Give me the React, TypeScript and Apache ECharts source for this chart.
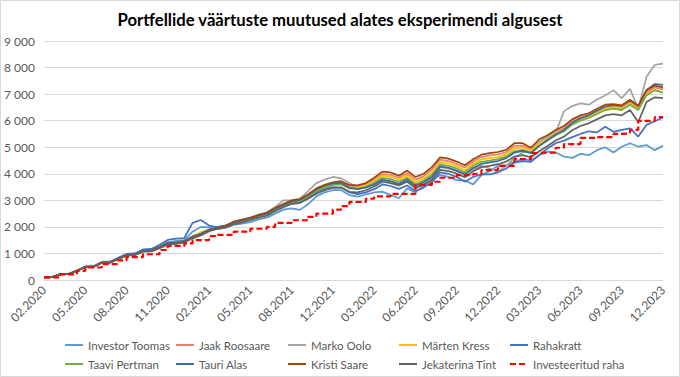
import React, { useEffect, useRef } from "react";
import * as echarts from "echarts";

const tickLabels = [
  "02.2020", "05.2020", "08.2020", "11.2020", "02.2021", "05.2021", "08.2021", "12.2021",
  "03.2022", "06.2022", "09.2022", "12.2022", "03.2023", "06.2023", "09.2023", "12.2023",
];

const investorToomas = [100,110,220,230,355,500,510,665,680,830,960,980,1120,1130,1260,1420,1470,1500,1820,2000,1980,1920,1960,2080,2120,2180,2280,2350,2500,2650,2700,2640,2850,3150,3300,3380,3380,3200,3140,3220,3300,3330,3200,3080,3450,3300,3550,3760,3950,3880,3760,3750,3600,3950,4100,4300,4330,4450,4550,4500,4700,4830,4800,4650,4600,4750,4700,4890,5000,4800,5020,5150,5020,5080,4890,5050];
const jaakRoosaare = [100,110,220,225,350,490,500,650,660,800,930,950,1090,1100,1220,1360,1390,1440,1610,1720,1870,1960,2030,2180,2250,2330,2430,2510,2690,2840,2970,3020,3200,3410,3540,3640,3680,3530,3500,3600,3780,3990,3960,3850,4020,3780,3910,4150,4530,4480,4370,4230,4460,4630,4690,4730,4810,5050,5060,4900,5210,5380,5580,5720,5970,6120,6210,6370,6520,6550,6500,6700,6470,7060,7250,7180];
const markoOolo = [100,105,215,220,345,490,500,650,660,800,930,950,1090,1100,1220,1360,1390,1430,1600,1720,1880,1950,2020,2160,2250,2330,2450,2540,2750,3000,3000,3060,3350,3650,3780,3880,3830,3650,3500,3520,3600,3750,3700,3600,3760,3560,3700,3880,4250,4200,4100,3980,4180,4300,4200,4080,4300,4600,4800,4850,5200,5400,5550,6350,6550,6650,6600,6800,6950,7150,6850,7200,6450,7650,8100,8150];
const martenKress = [100,110,215,220,345,485,495,645,655,795,925,945,1085,1095,1225,1370,1395,1460,1650,1800,1900,1970,2030,2170,2240,2330,2430,2510,2680,2830,2980,3030,3200,3400,3530,3630,3650,3500,3470,3560,3720,3930,3880,3780,3940,3680,3830,4040,4430,4390,4280,4130,4380,4540,4590,4630,4730,4950,4990,4870,5130,5320,5520,5660,5910,6060,6160,6310,6460,6500,6450,6650,6440,7000,7150,7080];
const rahakratt = [100,115,225,235,360,510,520,680,690,840,980,1000,1150,1170,1330,1510,1560,1580,2150,2260,2050,1990,2060,2180,2240,2330,2420,2480,2640,2780,2900,2940,3100,3300,3420,3500,3480,3300,3230,3300,3420,3600,3540,3430,3560,3350,3480,3680,4050,4000,3880,3700,3880,3980,3980,4050,4200,4420,4480,4450,4700,4950,5150,5250,5380,5500,5600,5560,5770,5580,5650,5710,5400,5840,5980,6120];
const taaviPertman = [100,110,220,225,350,490,500,650,660,800,930,950,1090,1100,1230,1380,1400,1450,1620,1720,1880,1960,2020,2150,2220,2300,2400,2480,2650,2800,2930,2980,3150,3350,3480,3580,3600,3450,3420,3500,3650,3850,3800,3700,3850,3600,3750,3950,4350,4300,4200,4050,4300,4450,4500,4550,4650,4850,4900,4800,5050,5250,5450,5600,5850,6000,6100,6250,6400,6450,6400,6600,6400,6950,7150,7050];
const tauriAlas = [100,110,220,225,350,495,505,655,665,810,945,965,1110,1120,1250,1400,1420,1470,1640,1740,1900,1980,2040,2170,2240,2320,2420,2500,2680,2830,2960,3020,3200,3420,3550,3640,3650,3480,3430,3480,3600,3780,3720,3620,3780,3530,3680,3880,4280,4220,4120,3970,4220,4370,4430,4480,4590,4800,4860,4780,5050,5270,5480,5650,5920,6090,6200,6370,6530,6590,6560,6780,6560,7150,7380,7350];
const kristiSaare = [100,110,220,225,350,490,500,650,660,800,930,950,1080,1090,1210,1350,1380,1430,1600,1700,1860,1950,2030,2200,2270,2350,2450,2540,2710,2860,3000,3050,3220,3450,3580,3680,3720,3580,3560,3650,3850,4080,4050,3930,4120,3880,4000,4250,4620,4570,4460,4320,4550,4720,4780,4820,4900,5150,5150,4980,5300,5450,5650,5800,6050,6200,6280,6450,6600,6620,6580,6780,6550,7150,7320,7250];
const jekaterinaTint = [100,110,220,225,350,485,495,640,650,790,915,935,1070,1080,1200,1340,1360,1410,1570,1680,1840,1920,1980,2100,2170,2250,2350,2420,2590,2740,2860,2900,3060,3250,3380,3470,3480,3320,3300,3380,3520,3700,3650,3560,3700,3460,3600,3780,4150,4100,4010,3870,4100,4250,4300,4360,4460,4650,4700,4620,4850,5050,5250,5400,5640,5800,5900,6050,6200,6250,6200,6400,5950,6700,6880,6850];
const investeeritudRaha = [100,100,210,210,340,470,470,600,600,740,860,860,970,970,1130,1280,1280,1380,1500,1500,1650,1700,1700,1820,1820,1930,1930,2000,2150,2150,2250,2250,2380,2500,2500,2650,2780,2940,2940,3060,3150,3150,3240,3240,3240,3580,3580,3700,3850,3850,3950,3950,4000,4140,4140,4300,4300,4550,4550,4780,4800,4800,4980,5120,5120,5350,5350,5380,5380,5500,5520,5650,5990,5990,6130,6150];

const seriesNames = [
  "Investor Toomas", "Jaak Roosaare", "Marko Oolo", "Märten Kress", "Rahakratt",
  "Taavi Pertman", "Tauri Alas", "Kristi Saare", "Jekaterina Tint", "Investeeritud raha",
];
const seriesValues = [
  investorToomas, jaakRoosaare, markoOolo, martenKress, rahakratt,
  taaviPertman, tauriAlas, kristiSaare, jekaterinaTint, investeeritudRaha,
];
const seriesColors = [
  "#5B9BD5", "#F0806A", "#A5A5A5", "#FFC000", "#4472C4",
  "#70AD47", "#3E6A9E", "#9E480E", "#636363", "#FF0000",
];

const legendColumns = [
  ["Investor Toomas", "Taavi Pertman"],
  ["Jaak Roosaare", "Tauri Alas"],
  ["Marko Oolo", "Kristi Saare"],
  ["Märten Kress", "Jekaterina Tint"],
  ["Rahakratt", "Investeeritud raha"],
];
const legendLefts = [64, 175, 287, 398, 509];

const categories: string[] = [];
tickLabels.forEach((t, k) => {
  categories.push(t);
  if (k < tickLabels.length - 1) {
    for (let j = 1; j < 5; j++) categories.push(`${t}/${j}`);
  }
});

const FONT = "Lato";

function fmt(v: number) {
  if (v === 0) return "0";
  const th = Math.floor(v / 1000);
  const rest = v % 1000;
  return `${th} ${String(rest).padStart(3, "0")}`;
}

export default function App() {
  const ref = useRef<HTMLDivElement>(null);
  useEffect(() => {
    if (!ref.current) return;
    const chart = echarts.init(ref.current, null, { renderer: "svg" });
    const series = seriesNames.map((name, idx) => {
      const isRed = idx === 9;
      return {
        name,
        type: "line",
        data: seriesValues[idx],
        symbol: "none",
        showSymbol: false,
        step: isRed ? "end" : undefined,
        color: seriesColors[idx],
        lineStyle: {
          color: seriesColors[idx],
          width: isRed ? 2.2 : 1.75,
          type: isRed ? [6, 3] : "solid",
        },
        z: 2 + idx,
      };
    });
    chart.setOption({
      animation: false,
      backgroundColor: "#ffffff",
      textStyle: { fontFamily: FONT },
      title: {
        text: "Portfellide väärtuste muutused alates eksperimendi algusest",
        left: "center",
        top: 6,
        textStyle: { fontFamily: FONT, fontSize: 16.7, fontWeight: "bold", color: "#000000" },
      },
      legend: legendColumns.map((col, c) => ({
        data: col,
        orient: "vertical",
        left: legendLefts[c],
        top: 339,
        padding: 0,
        itemWidth: 18,
        itemHeight: 8,
        itemGap: 7,
        itemStyle: { opacity: 0 },
        textStyle: { fontFamily: FONT, fontSize: 11.5, color: "#595959" },
        selectedMode: false,
      })),
      grid: { left: 44, right: 17, top: 41, bottom: 97, containLabel: false },
      xAxis: {
        type: "category",
        data: categories,
        boundaryGap: false,
        axisLine: { show: true, lineStyle: { color: "#d9d9d9", width: 1 } },
        axisTick: { show: false },
        axisLabel: {
          interval: 4,
          rotate: 45,
          margin: 8,
          color: "#595959",
          fontFamily: FONT,
          fontSize: 12,
        },
        splitLine: { show: false },
      },
      yAxis: {
        type: "value",
        min: 0,
        max: 9000,
        interval: 1000,
        axisLine: { show: false },
        axisTick: { show: false },
        axisLabel: {
          formatter: (v: number) => fmt(v),
          color: "#595959",
          fontFamily: FONT,
          fontSize: 12,
          margin: 9,
        },
        splitLine: { lineStyle: { color: "#d9d9d9", width: 1 } },
      },
      graphic: [
        {
          type: "rect",
          shape: { x: 0.5, y: 0.5, width: 679, height: 376 },
          style: { fill: "none", stroke: "#d9d9d9", lineWidth: 1 },
          silent: true,
          z: 100,
        },
      ],
      series,
    });
    return () => chart.dispose();
  }, []);
  return (
    <div
      ref={ref}
      style={{ position: "fixed", left: 0, top: 0, width: 680, height: 377, background: "#fff" }}
    />
  );
}
